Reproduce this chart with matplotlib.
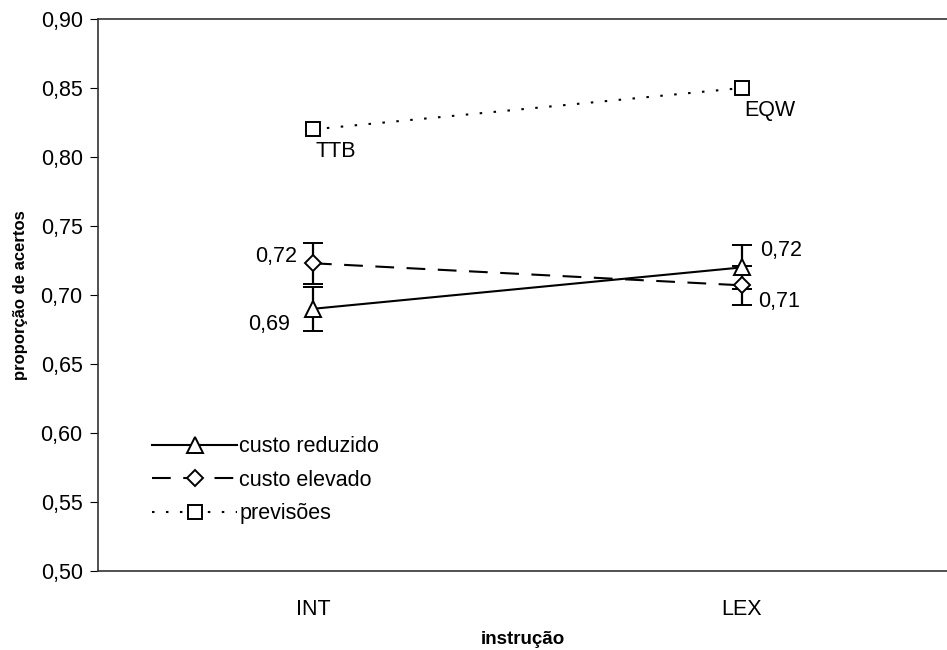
import matplotlib.pyplot as plt
from matplotlib.lines import Line2D
from matplotlib.ticker import FuncFormatter

plt.rcParams['font.family'] = ['Liberation Sans', 'DejaVu Sans']

categorias = ["INT", "LEX"]
custo_reduzido = [0.690, 0.720]
erro_reduzido = [0.016, 0.016]
custo_elevado = [0.723, 0.707]
erro_elevado = [0.015, 0.014]
previsoes = [0.82, 0.85]
estrategias = ["TTB", "EQW"]


def virgula(v, decimais=2):
    return f"{v:.{decimais}f}".replace(".", ",")


fig = plt.figure(figsize=(9.47, 6.5), dpi=100)
ax = fig.add_axes([0.1035, 0.1215, 0.8965, 0.8493])

x = range(len(categorias))
estilo = {
    "custo reduzido": dict(marker="^", linestyle="-", markersize=11),
    "custo elevado": dict(marker="D", linestyle=(0, (9, 6)), markersize=8.5),
    "previsões": dict(marker="s", linestyle=(0, (1.2, 5.5)), markersize=10.5),
}
comum = dict(markerfacecolor="white", markeredgecolor="black",
             markeredgewidth=1.4, color="black", linewidth=1.5)

ax.errorbar(x, custo_reduzido, yerr=erro_reduzido, capsize=7, capthick=1.6,
            elinewidth=1.6, zorder=3, **estilo["custo reduzido"], **comum)
ax.errorbar(x, custo_elevado, yerr=erro_elevado, capsize=7, capthick=1.6,
            elinewidth=1.6, zorder=3, **estilo["custo elevado"], **comum)
ax.plot(x, previsoes, zorder=3, **estilo["previsões"], **comum)

# rótulos de valor
fs = 15.5
ax.annotate(virgula(custo_elevado[0]), (0, custo_elevado[0]), xytext=(-11.5, 5),
            textcoords="offset points", ha="right", va="center", fontsize=fs)
ax.annotate(virgula(custo_reduzido[0]), (0, custo_reduzido[0]), xytext=(-16.5, -11.5),
            textcoords="offset points", ha="right", va="center", fontsize=fs)
ax.annotate(virgula(custo_reduzido[1]), (1, custo_reduzido[1]), xytext=(13, 12),
            textcoords="offset points", ha="left", va="center", fontsize=fs)
ax.annotate(virgula(custo_elevado[1]), (1, custo_elevado[1]), xytext=(11.5, -11.5),
            textcoords="offset points", ha="left", va="center", fontsize=fs)
for i, (v, nome) in enumerate(zip(previsoes, estrategias)):
    ax.annotate(nome, (i, v), xytext=(1.5, -16), textcoords="offset points",
                ha="left", va="center", fontsize=fs)

ax.set_xlim(-0.501, 1.478)
ax.set_ylim(0.50, 0.90)
ax.set_yticks([0.50 + 0.05 * k for k in range(9)])
ax.yaxis.set_major_formatter(FuncFormatter(lambda v, p: virgula(v)))
ax.set_xticks(list(x))
ax.set_xticklabels(categorias)
ax.tick_params(axis="y", direction="out", length=6, labelsize=15.5, pad=5)
ax.tick_params(axis="x", length=0, labelsize=15.5, pad=20)

ax.spines["right"].set_visible(False)
for s in ["left", "top", "bottom"]:
    ax.spines[s].set_color("#333333")
    ax.spines[s].set_linewidth(1.2)

ax.set_ylabel("proporção de acertos", fontsize=12, fontweight="bold", labelpad=9)
ax.set_xlabel("instrução", fontsize=13.5, fontweight="bold", labelpad=8)

alcas = [Line2D([], [], **estilo[k], **comum) for k in estilo]
ax.legend(alcas, list(estilo), loc="lower left", bbox_to_anchor=(0.051, 0.065),
          frameon=False, fontsize=15.5, handlelength=3.95, handletextpad=0.1,
          labelspacing=0.58, borderpad=0)

fig.savefig("out.png", dpi=100)
